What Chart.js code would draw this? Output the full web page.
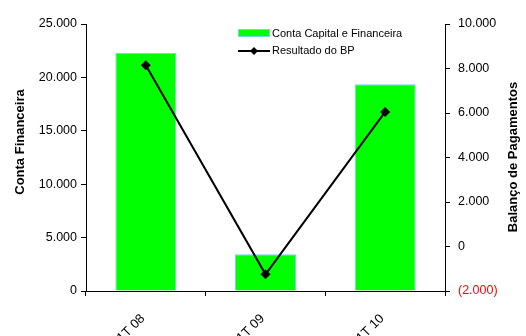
<!DOCTYPE html>
<html lang="pt-BR">
<head>
  <meta charset="UTF-8" />
  <title>Conta Financeira x Balanço de Pagamentos</title>
  <script src="https://cdn.jsdelivr.net/npm/chart.js@4"></script>
  <style>
    html, body {
      margin: 0;
      padding: 0;
      background: #fff;
      overflow: hidden;
    }
    canvas {
      display: block;
    }
  </style>
</head>
<body>
  <canvas id="grafico" width="526" height="336"></canvas>

  <script>
    // Dados (US$ milhões)
    const trimestres = ["1T 08", "1T 09", "1T 10"];
    const contaCapital = [22300, 3450, 19350];
    const resultadoBP = [8150, -1250, 6050];

    // Escalas: [mínimo, máximo, passo]
    const escalaConta = [0, 25000, 5000];
    const escalaBP = [-2000, 10000, 2000];

    const fonte = '"Liberation Sans", Arial, sans-serif';

    // 1.234 / (1.234) para negativos
    function formata(v) {
      const s = Math.abs(v).toString().replace(/\B(?=(\d{3})+(?!\d))/g, ".");
      return v < 0 ? "(" + s + ")" : s;
    }

    // Títulos dos eixos e legenda desenhados por cima
    const extras = {
      id: "extras",
      afterDraw(chart) {
        const ctx = chart.ctx;
        const barras = chart.data.datasets.find((d) => d.type !== "line");
        const linha = chart.data.datasets.find((d) => d.type === "line");

        ctx.save();
        ctx.fillStyle = "#000";
        ctx.font = "bold 13px " + fonte;
        ctx.textAlign = "center";
        ctx.textBaseline = "middle";
        ctx.translate(20, 142);
        ctx.rotate(-Math.PI / 2);
        ctx.fillText("Conta Financeira", 0, 0);
        ctx.restore();

        ctx.save();
        ctx.fillStyle = "#000";
        ctx.font = "bold 13px " + fonte;
        ctx.textAlign = "center";
        ctx.textBaseline = "middle";
        ctx.translate(513, 157);
        ctx.rotate(-Math.PI / 2);
        ctx.fillText("Balanço de Pagamentos", 0, 0);
        ctx.restore();

        // legenda
        ctx.save();
        ctx.font = "11px " + fonte;
        ctx.textBaseline = "middle";
        ctx.fillStyle = barras.backgroundColor;
        ctx.fillRect(238, 29, 32, 8);
        ctx.strokeStyle = barras.borderColor;
        ctx.lineWidth = 1;
        ctx.strokeRect(238.5, 29.5, 31, 7);
        ctx.fillStyle = "#000";
        ctx.fillText(barras.label, 272, 34);

        ctx.strokeStyle = linha.borderColor;
        ctx.lineWidth = 2;
        ctx.beginPath();
        ctx.moveTo(238, 51);
        ctx.lineTo(270, 51);
        ctx.stroke();
        ctx.fillStyle = "#000";
        ctx.beginPath();
        ctx.moveTo(254, 47);
        ctx.lineTo(258, 51);
        ctx.lineTo(254, 55);
        ctx.lineTo(250, 51);
        ctx.closePath();
        ctx.fill();
        ctx.fillText(linha.label, 272, 51);
        ctx.restore();
      }
    };

    const ctx = document.getElementById("grafico").getContext("2d");
    new Chart(ctx, {
      type: "bar",
      data: {
        labels: trimestres,
        datasets: [
          {
            type: "line",
            label: "Resultado do BP",
            data: resultadoBP,
            yAxisID: "yBP",
            borderColor: "#000",
            backgroundColor: "#000",
            borderWidth: 2,
            pointStyle: "rectRot",
            pointRadius: 5,
            pointBackgroundColor: "#000",
            pointBorderWidth: 0,
            tension: 0,
            order: 0
          },
          {
            type: "bar",
            label: "Conta Capital e Financeira",
            data: contaCapital,
            yAxisID: "yConta",
            backgroundColor: "#00ff00",
            borderColor: "#7fd0e0",
            borderWidth: 1,
            categoryPercentage: 1,
            barPercentage: 0.51,
            order: 1
          }
        ]
      },
      options: {
        responsive: false,
        animation: false,
        layout: { padding: { top: 24, left: 0, right: 0, bottom: 0 } },
        plugins: {
          legend: { display: false },
          tooltip: { enabled: false }
        },
        scales: {
          x: {
            offset: true,
            afterFit: (s) => { s.height = 336 - 291; },
            border: { color: "#000", width: 1 },
            grid: { offset: true, drawOnChartArea: false, color: "#000", tickLength: 5 },
            ticks: {
              color: "#000",
              font: { family: fonte, size: 13 },
              minRotation: 45,
              maxRotation: 45,
              padding: 15,
              labelOffset: -3
            }
          },
          yConta: {
            position: "left",
            min: escalaConta[0],
            max: escalaConta[1],
            afterFit: (s) => { s.width = 86; },
            border: { color: "#000", width: 1 },
            grid: { drawOnChartArea: false, color: "#000", tickLength: 5 },
            ticks: {
              stepSize: escalaConta[2],
              color: "#000",
              font: { family: fonte, size: 12.5 },
              padding: 4,
              callback: (v) => formata(v)
            }
          },
          yBP: {
            position: "right",
            min: escalaBP[0],
            max: escalaBP[1],
            afterFit: (s) => { s.width = 526 - 445; },
            border: { color: "#000", width: 1 },
            grid: { drawOnChartArea: false, color: "#000", tickLength: 5 },
            ticks: {
              stepSize: escalaBP[2],
              color: (c) => (c.tick && c.tick.value < 0 ? "#ff0000" : "#000"),
              font: { family: fonte, size: 12.5 },
              padding: 8,
              callback: (v) => formata(v)
            }
          }
        }
      },
      plugins: [extras]
    });
  </script>
</body>
</html>
